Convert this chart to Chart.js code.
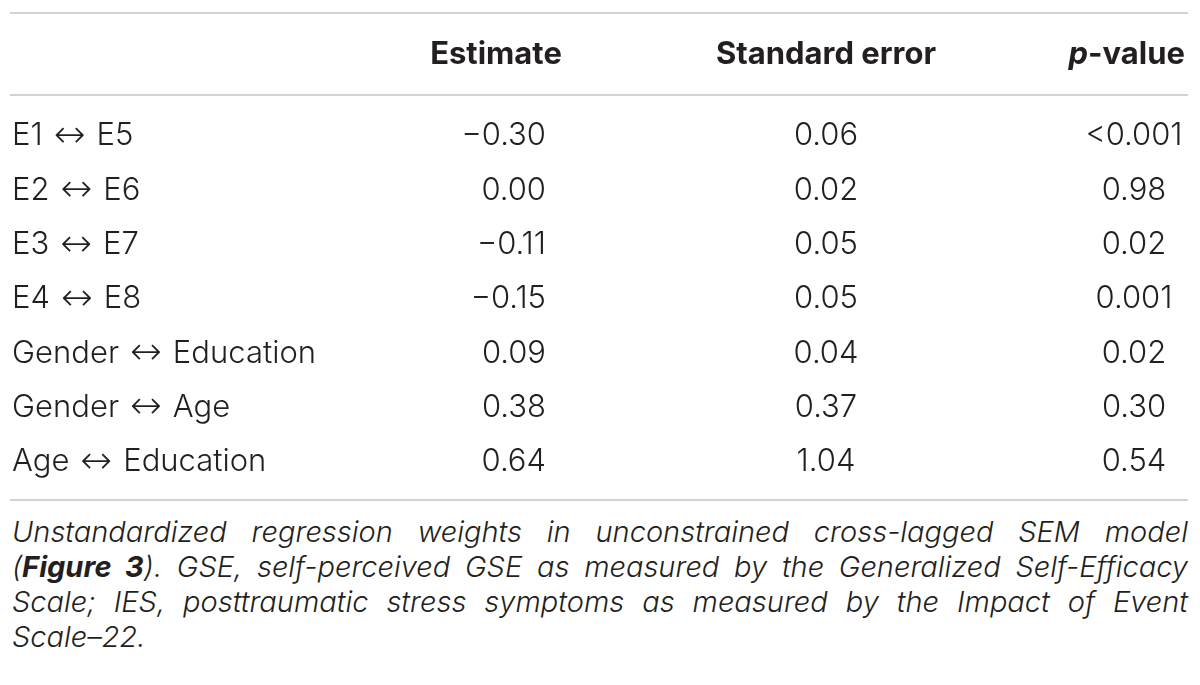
<!DOCTYPE html>
<html lang="en">
<head>
    <meta charset="UTF-8">
    <title>Unstandardized regression weights</title>
    <script src="https://cdn.jsdelivr.net/npm/chart.js"></script>
    <style>
        body {
            margin: 0;
            padding: 0;
            background: #ffffff;
            font-family: Inter, "Liberation Sans", sans-serif;
            color: #231f20;
        }

        .table-box {
            position: absolute;
            left: 0;
            top: 0;
            width: 1200px;
            height: 510px;
        }

        .caption {
            position: absolute;
            left: 12px;
            top: 514px;
            width: 1176px;
            font-size: 29px;
            font-style: italic;
            font-weight: 300;
            line-height: 35px;
        }

        .caption div {
            text-align: justify;
            text-align-last: justify;
            white-space: nowrap;
        }

        .caption div.last {
            text-align-last: left;
        }

        .caption b {
            font-weight: 700;
        }
    </style>
</head>
<body>
    <div class="table-box">
        <canvas id="tableChart"></canvas>
    </div>
    <div class="caption">
        <div>Unstandardized regression weights in unconstrained cross-lagged SEM model</div>
        <div>(<b>Figure 3</b>). GSE, self-perceived GSE as measured by the Generalized Self-Efficacy</div>
        <div>Scale; IES, posttraumatic stress symptoms as measured by the Impact of Event</div>
        <div class="last">Scale–22.</div>
    </div>
    <script>
        const rowLabels = ['E1 ↔ E5', 'E2 ↔ E6', 'E3 ↔ E7', 'E4 ↔ E8',
            'Gender ↔ Education', 'Gender ↔ Age', 'Age ↔ Education'];
        const columns = ['Estimate', 'Standard error', 'p-value'];
        const estimate = ['−0.30', '0.00', '−0.11', '−0.15', '0.09', '0.38', '0.64'];
        const stdError = ['0.06', '0.02', '0.05', '0.05', '0.04', '0.37', '1.04'];
        const pValue = ['<0.001', '0.98', '0.02', '0.001', '0.02', '0.30', '0.54'];

        const TEXT = '#231f20';
        const RULE = '#c4c4c4';
        const FONT = 'Inter, "Liberation Sans", sans-serif';
        const ARROW_FONT = '"DejaVu Sans", sans-serif';
        const SIZE = 31;

        // how each column's values sit around the column position
        const cellStyle = [
            { align: 'right', dx: 52 },
            { align: 'center', dx: 4 },
            { align: 'center', dx: -16 }
        ];

        const columnValues = [estimate, stdError, pValue];
        const datasets = columnValues.map((vals, c) => ({
            label: columns[c],
            data: vals.map((v, r) => ({ x: columns[c], y: rowLabels[r], text: v })),
            pointRadius: 0,
            pointHoverRadius: 0
        }));

        const tablePlugin = {
            id: 'tableText',
            afterDatasetsDraw(chart) {
                const ctx = chart.ctx;
                const area = chart.chartArea;
                const xs = chart.scales.x;
                const ys = chart.scales.y;
                ctx.save();

                // rules
                ctx.strokeStyle = RULE;
                ctx.lineWidth = 1.5;
                [area.top - 96, area.top - 14, area.bottom + 11].forEach(y => {
                    ctx.beginPath();
                    ctx.moveTo(10, y);
                    ctx.lineTo(1188, y);
                    ctx.stroke();
                });

                // header
                ctx.fillStyle = TEXT;
                ctx.textBaseline = 'middle';
                const hy = area.top - 54;
                ctx.font = `bold ${SIZE}px ${FONT}`;
                ctx.textAlign = 'center';
                ctx.fillText(columns[0], xs.getPixelForValue(0) + 2, hy);
                ctx.fillText(columns[1], xs.getPixelForValue(1) + 4, hy);
                // p-value with italic p, right edge near the table edge
                const pRight = xs.getPixelForValue(2) + 35;
                ctx.textAlign = 'right';
                ctx.fillText(columns[2].slice(1), pRight, hy);
                const wr = ctx.measureText(columns[2].slice(1)).width;
                ctx.font = `italic bold ${SIZE}px ${FONT}`;
                ctx.fillText('p', pRight - wr, hy);

                // row labels on the y scale positions, thin arrow in its own font
                ctx.textAlign = 'left';
                const gap = 13;
                rowLabels.forEach((lab, r) => {
                    const y = ys.getPixelForValue(r);
                    const [a, b] = lab.split(' ↔ ');
                    let x = ys.left;
                    ctx.font = `300 ${SIZE}px ${FONT}`;
                    ctx.fillText(a, x, y);
                    x += ctx.measureText(a).width + gap;
                    ctx.font = `200 38px ${ARROW_FONT}`;
                    ctx.fillText('↔', x - 2, y + 1);
                    x += ctx.measureText('↔').width - 4 + gap;
                    ctx.font = `300 ${SIZE}px ${FONT}`;
                    ctx.fillText(b, x, y);
                });

                // cells
                ctx.font = `300 ${SIZE}px ${FONT}`;
                chart.data.datasets.forEach((ds, c) => {
                    const meta = chart.getDatasetMeta(c);
                    ctx.textAlign = cellStyle[c].align;
                    meta.data.forEach((pt, r) => {
                        ctx.fillText(ds.data[r].text, pt.x + cellStyle[c].dx, pt.y);
                    });
                });
                ctx.restore();
            }
        };

        new Chart(document.getElementById('tableChart'), {
            type: 'scatter',
            data: { datasets: datasets },
            options: {
                responsive: true,
                maintainAspectRatio: false,
                animation: false,
                events: [],
                layout: { padding: { left: 12, right: 50, top: 109, bottom: 21 } },
                scales: {
                    x: {
                        type: 'category',
                        labels: columns,
                        offset: false,
                        display: false
                    },
                    y: {
                        type: 'category',
                        labels: rowLabels,
                        offset: true,
                        position: 'left',
                        grid: { display: false, drawTicks: false },
                        border: { display: false },
                        ticks: { display: false },
                        afterFit(scale) { scale.width = 482; }
                    }
                },
                plugins: {
                    legend: { display: false },
                    tooltip: { enabled: false }
                }
            },
            plugins: [tablePlugin]
        });
    </script>
</body>
</html>
